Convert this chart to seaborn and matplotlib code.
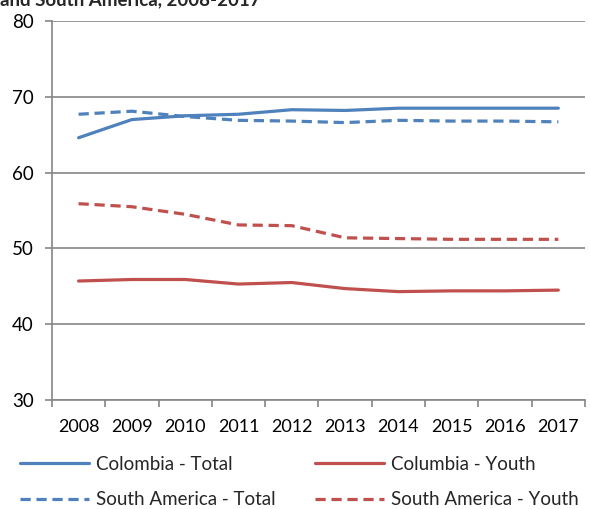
import numpy as np
import pandas as pd
import matplotlib
matplotlib.use("Agg")
import matplotlib.pyplot as plt
from matplotlib.ticker import FixedLocator
import seaborn as sns

# dados
anos = ['2008', '2009', '2010', '2011', '2012', '2013', '2014', '2015', '2016', '2017']
colombia_total = [64.6, 67.0, 67.5, 67.7, 68.3, 68.2, 68.5, 68.5, 68.5, 68.5]
south_america_total = [67.7, 68.1, 67.4, 66.9, 66.8, 66.6, 66.9, 66.8, 66.8, 66.7]
colombia_youth = [45.7, 45.9, 45.9, 45.3, 45.5, 44.7, 44.3, 44.4, 44.4, 44.5]
south_america_youth = [55.9, 55.5, 54.5, 53.1, 53.0, 51.4, 51.3, 51.2, 51.2, 51.2]

sns.set_theme(style='white')
plt.rcParams['font.family'] = ['Lato', 'DejaVu Sans']

azul = '#4F81BD'
vermelho = '#C0504D'
cinza = '#868686'

fig = plt.figure(figsize=(5.9, 5.09), dpi=100)
ax = fig.add_axes([0.088, 0.2141, 0.9035, 0.7446])

x = np.arange(len(anos))
series = [
    ('Colombia - Total', colombia_total, azul, ''),
    ('South America - Total', south_america_total, azul, (3.2, 1.8)),
    ('Columbia - Youth', colombia_youth, vermelho, ''),
    ('South America - Youth', south_america_youth, vermelho, (3.2, 1.8)),
]
for nome, valores, cor, traco in series:
    linha = sns.lineplot(x=x, y=valores, ax=ax, color=cor, linewidth=2.3, label=nome)
    if traco:
        linha.lines[-1].set_dashes(traco)

ax.set_xlim(-0.5, len(anos) - 0.5)
ax.set_ylim(30, 80)
ax.set_yticks([30, 40, 50, 60, 70, 80])
ax.set_xticks(x)
ax.set_xticklabels(anos)
ax.xaxis.set_minor_locator(FixedLocator(np.arange(-0.5, len(anos), 1)))
ax.tick_params(axis='x', which='major', length=0, pad=14, labelsize=13, colors='black')
ax.tick_params(axis='x', which='minor', length=5, width=1.2, color=cinza, direction='out', bottom=True)
ax.tick_params(axis='y', length=5, width=1.2, color=cinza, direction='out', left=True, pad=8, labelsize=13.5, labelcolor='black')

ax.grid(axis='y', color=cinza, linewidth=1.2)
ax.set_axisbelow(True)
for lado in ['top', 'right']:
    ax.spines[lado].set_visible(False)
for lado in ['left', 'bottom']:
    ax.spines[lado].set_color(cinza)
    ax.spines[lado].set_linewidth(1.2)
ax.set_xlabel('')
ax.set_ylabel('')

handles, labels = ax.get_legend_handles_labels()
ax.get_legend().remove()
fig.legend(handles, labels, ncol=2, loc='lower left', bbox_to_anchor=(0.027, -0.006),
           frameon=False, fontsize=13.5, handlelength=3.7, handletextpad=0.37,
           columnspacing=2.1, labelspacing=1.0, borderpad=0.2, borderaxespad=0)

# titulo cortado no topo da imagem
fig.text(0.0, 1 - 5 / 509, 'and South America, 2008-2017', fontsize=13.5,
         fontweight='bold', va='baseline', ha='left')

fig.savefig('out.png', dpi=100)
